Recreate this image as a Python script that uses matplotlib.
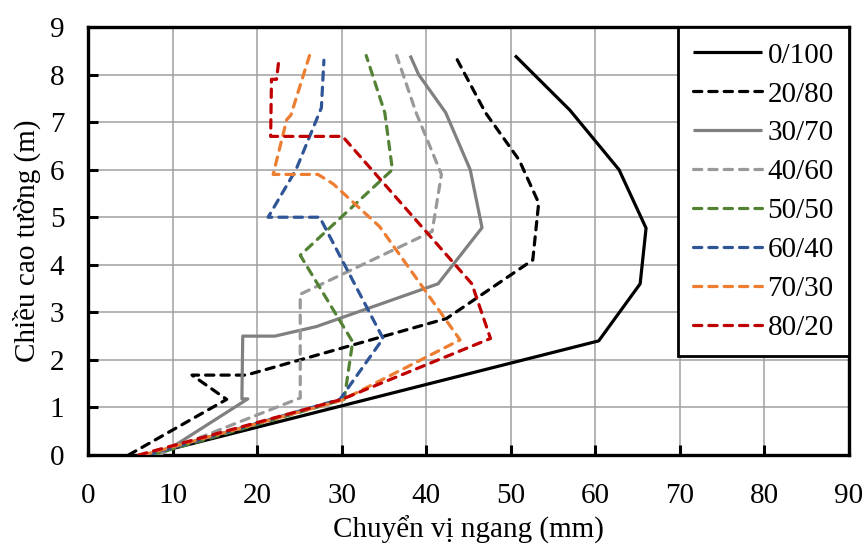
import matplotlib
matplotlib.use("Agg")
import matplotlib.pyplot as plt

plt.rcParams['font.family'] = ['Liberation Serif', 'DejaVu Serif']

labels = ["0/100", "20/80", "30/70", "40/60", "50/50", "60/40", "70/30", "80/20"]

x_0_100 = [7.0, 60.4, 65.3, 66.0, 62.8, 57.0, 50.5]
y_0_100 = [0.0, 2.4, 3.6, 4.77, 6.0, 7.25, 8.4]

x_20_80 = [4.8, 16.4, 12.3, 18.7, 42.4, 52.6, 53.3, 51.0, 47.0, 43.4]
y_20_80 = [0.0, 1.17, 1.68, 1.68, 2.87, 4.1, 5.3, 6.2, 7.2, 8.4]

x_30_70 = [8.5, 18.9, 18.2, 18.3, 22.1, 27.0, 41.4, 46.6, 45.2, 42.3, 39.1, 38.1]
y_30_70 = [0.0, 1.18, 1.18, 2.5, 2.5, 2.7, 3.6, 4.78, 6.0, 7.2, 8.0, 8.4]

x_40_60 = [8.0, 25.1, 25.1, 40.7, 41.8, 38.8, 36.5]
y_40_60 = [0.0, 1.2, 3.38, 4.7, 5.9, 7.2, 8.4]

x_50_50 = [7.5, 30.3, 31.3, 25.1, 36.0, 35.1, 32.9]
y_50_50 = [0.0, 1.17, 2.38, 4.2, 6.0, 7.2, 8.4]

x_60_40 = [7.0, 29.8, 34.9, 27.4, 21.3, 24.6, 27.6, 27.9]
y_60_40 = [0.0, 1.17, 2.45, 5.0, 5.0, 6.0, 7.3, 8.3]

x_70_30 = [6.5, 30.0, 44.0, 39.3, 34.5, 29.0, 27.2, 21.9, 23.5, 24.0, 26.2]
y_70_30 = [0.0, 1.15, 2.42, 3.6, 4.8, 5.7, 5.9, 5.9, 7.05, 7.15, 8.4]

x_80_20 = [6.0, 30.0, 47.6, 45.4, 30.1, 21.6, 21.7, 22.3, 22.6]
y_80_20 = [0.0, 1.17, 2.45, 3.6, 6.7, 6.7, 7.9, 7.9, 8.35]

series_x = [x_0_100, x_20_80, x_30_70, x_40_60, x_50_50, x_60_40, x_70_30, x_80_20]
series_y = [y_0_100, y_20_80, y_30_70, y_40_60, y_50_50, y_60_40, y_70_30, y_80_20]
colors = ["#000000", "#000000", "#808080", "#999999", "#548235", "#2F5597", "#ED7D31", "#C00000"]
solid = [True, False, True, False, False, False, False, False]

x_ticks = [0, 10, 20, 30, 40, 50, 60, 70, 80, 90]
y_ticks = [0, 1, 2, 3, 4, 5, 6, 7, 8, 9]

fig = plt.figure(figsize=(8.64, 5.46), dpi=100)
ax = fig.add_axes([88/864, 1-455/546, (849-88)/864, (455-27)/546])

for xs, ys, c, s, lab in zip(series_x, series_y, colors, solid, labels):
    if s:
        ax.plot(xs, ys, color=c, lw=2.3, solid_capstyle='butt', label=lab, zorder=3)
    else:
        ax.plot(xs, ys, color=c, lw=2.3, linestyle=(0, (2.6, 2.2)),
                dash_capstyle='round', label=lab, zorder=3)

ax.set_xlim(0, 90)
ax.set_ylim(0, 9)
ax.set_xticks(x_ticks)
ax.set_yticks(y_ticks)
ax.grid(True, color="#A0A0A0", lw=1.1, zorder=0)
for sp in ax.spines.values():
    sp.set_linewidth(2.4)
    sp.set_color("black")
ax.tick_params(axis='both', direction='in', length=7, width=2.2, labelsize=21)
ax.tick_params(axis='y', pad=17)
ax.tick_params(axis='x', pad=20)

ax.set_xlabel("Chuyển vị ngang (mm)", fontsize=21, labelpad=5)
ax.set_ylabel("Chiều cao tường (m)", fontsize=21, labelpad=6)

leg = ax.legend(loc='upper right', fontsize=21, frameon=True, fancybox=False,
                borderaxespad=0.0, handlelength=2.35, handletextpad=0.2,
                labelspacing=0.43, borderpad=0.52, framealpha=1)
leg.get_frame().set_edgecolor("black")
leg.get_frame().set_linewidth(2.0)

fig.savefig("out.png", dpi=100)
